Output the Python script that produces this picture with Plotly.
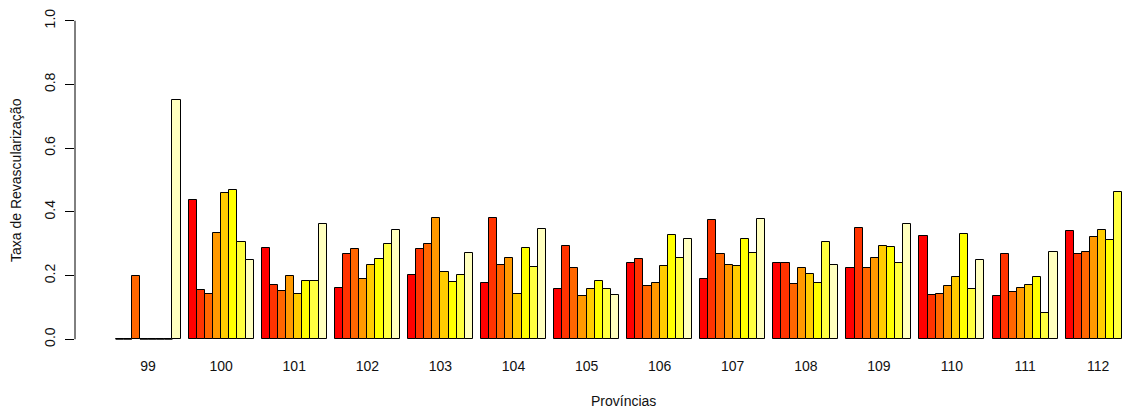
import plotly.graph_objects as go

# Revascularization rate by province, eight sub-groups per province
provinces = ["99", "100", "101", "102", "103", "104", "105",
             "106", "107", "108", "109", "110", "111", "112"]

s1 = [0.00, 0.437, 0.287, 0.162, 0.203, 0.178, 0.159, 0.238, 0.188, 0.241, 0.223, 0.324, 0.136, 0.340]
s2 = [0.00, 0.155, 0.170, 0.269, 0.284, 0.381, 0.294, 0.253, 0.373, 0.241, 0.350, 0.140, 0.268, 0.268]
s3 = [0.20, 0.143, 0.151, 0.283, 0.298, 0.233, 0.223, 0.167, 0.268, 0.174, 0.223, 0.143, 0.148, 0.275]
s4 = [0.00, 0.333, 0.200, 0.188, 0.381, 0.256, 0.136, 0.178, 0.233, 0.223, 0.256, 0.167, 0.162, 0.320]
s5 = [0.00, 0.460, 0.143, 0.234, 0.210, 0.143, 0.159, 0.230, 0.230, 0.204, 0.294, 0.197, 0.170, 0.343]
s6 = [0.00, 0.469, 0.184, 0.253, 0.181, 0.287, 0.184, 0.327, 0.316, 0.178, 0.290, 0.332, 0.197, 0.313]
s7 = [0.00, 0.306, 0.184, 0.298, 0.203, 0.227, 0.159, 0.256, 0.272, 0.306, 0.238, 0.159, 0.084, 0.463]
s8 = [0.75, 0.249, 0.362, 0.343, 0.271, 0.347, 0.140, 0.316, 0.378, 0.233, 0.362, 0.249, 0.275, None]

series = [s1, s2, s3, s4, s5, s6, s7, s8]

# heat.colors(8)
colors = ["#FF0000", "#FF3300", "#FF6600", "#FF9900",
          "#FFCC00", "#FFFF00", "#FFFF40", "#FFFFBF"]

n_sub = len(series)
group_step = n_sub + 1          # one bar-width gap before every group
font = dict(family="Liberation Sans, Arial, sans-serif", size=14, color="#111111")

fig = go.Figure()
shapes = []
for k, (vals, col) in enumerate(zip(series, colors)):
    xs = [1 + group_step * g + k + 0.5 for g in range(len(provinces))]
    fig.add_trace(go.Bar(
        x=xs, y=vals, width=1.0,
        marker=dict(color=col, line=dict(color="#000000", width=1)),
        showlegend=False,
    ))
    # zero-height bars still show their outline along the baseline
    for x, v in zip(xs, vals):
        if v == 0:
            shapes.append(dict(type="line", xref="x", yref="y",
                               x0=x - 0.5, x1=x + 0.5, y0=0, y1=0,
                               line=dict(color="#000000", width=1)))

# y axis line spans the tick range only
shapes.append(dict(type="line", xref="paper", yref="y", x0=0, x1=0, y0=0, y1=1,
                   line=dict(color="#000000", width=1)))

centers = [1 + group_step * g + n_sub / 2 for g in range(len(provinces))]

W, H = 1123, 411
ml, mr, mt, mb = 75, 0, 8, 59
x_lo = -4
x_hi = x_lo + (W - ml - mr) / 8.12
full_center = (x_lo + (1 + group_step * len(provinces) - 1 + 5)) / 2

fig.update_layout(
    width=W, height=H,
    margin=dict(l=ml, r=mr, t=mt, b=mb, pad=0),
    paper_bgcolor="white", plot_bgcolor="white",
    barmode="overlay", bargap=0,
    font=font,
    shapes=shapes,
    xaxis=dict(range=[x_lo, x_hi], showgrid=False, zeroline=False, showline=False,
               tickmode="array", tickvals=centers, ticktext=provinces,
               ticks="", tickfont=font, ticklabelstandoff=4),
    yaxis=dict(range=[-0.04, 1.04], showgrid=False, zeroline=False, showline=False,
               tickmode="array", tickvals=[0, 0.2, 0.4, 0.6, 0.8, 1.0],
               ticktext=["0.0", "0.2", "0.4", "0.6", "0.8", "1.0"],
               ticks="outside", ticklen=9, tickwidth=1, tickcolor="#000000",
               tickangle=-90, tickfont=font, ticklabelstandoff=4),
    annotations=[
        dict(text="Taxa de Revascularização", textangle=-90, showarrow=False,
             xref="paper", yref="paper", x=(16 - ml) / (W - ml - mr), y=0.5,
             xanchor="center", yanchor="middle", font=font),
        dict(text="Províncias", showarrow=False,
             xref="x", yref="paper", x=full_center, y=(H - mb - 401) / (H - mt - mb),
             xanchor="center", yanchor="middle", font=font),
    ],
)

fig.write_html("out.html")
